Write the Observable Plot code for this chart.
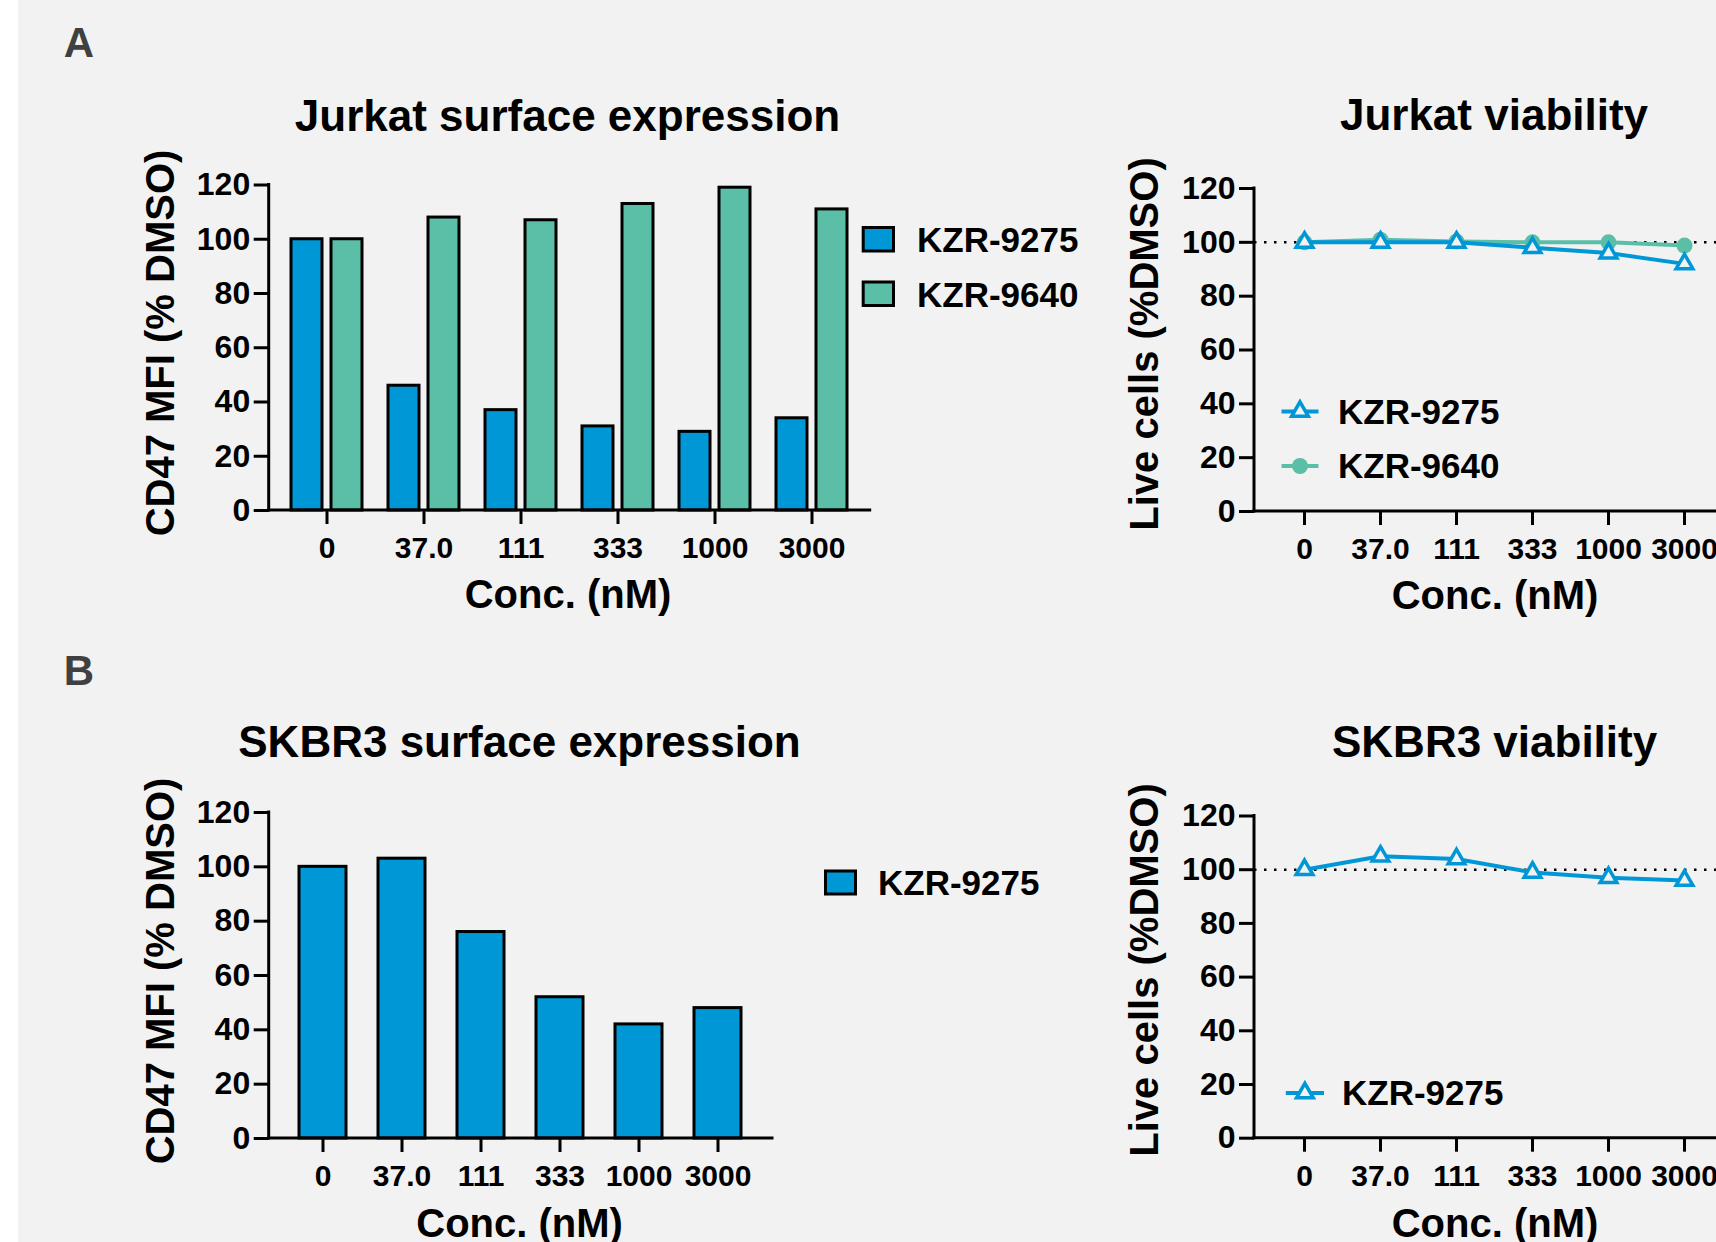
<!DOCTYPE html>
<html><head><meta charset="utf-8">
<script src="https://cdn.jsdelivr.net/npm/d3@7"></script>
<script src="https://cdn.jsdelivr.net/npm/@observablehq/plot@0.6"></script>
<style>
html,body{margin:0;padding:0;background:#ffffff;}
#fig{position:relative;width:1716px;height:1242px;overflow:hidden;background:#f2f2f2;font-family:"Liberation Sans",Arial,sans-serif;font-weight:bold;}
#strip{position:absolute;left:0;top:0;width:18px;height:1242px;background:#ffffff;}
.panel{position:absolute;}
.panel svg{overflow:visible;max-width:none;display:block;}
.panel svg g[aria-label$="tick"], .panel svg g[aria-label$="tick"] path{stroke-width:3px !important;}
#overlay{position:absolute;left:0;top:0;pointer-events:none;}
</style></head>
<body><div id="fig"><div id="strip"></div></div>
<script>
// ---------------- data ----------------
const concLabels = ["0", "37.0", "111", "333", "1000", "3000"];
const seriesNames = ["KZR-9275", "KZR-9640"];
const jurkatSurface9275 = [100, 46, 37, 31, 29, 34];
const jurkatSurface9640 = [100, 108, 107, 113, 119, 111];
const jurkatViability9275 = [100, 100, 100, 98, 96, 92];
const jurkatViability9640 = [100, 101, 100.3, 100, 100, 98.8];
const skbr3Surface9275 = [100, 103, 76, 52, 42, 48];
const skbr3Viability9275 = [100, 105, 104, 99, 97, 96];
const yTicks = [0, 20, 40, 60, 80, 100, 120];
const dmsoReference = [100];

const panelTitles = ["Jurkat surface expression", "Jurkat viability", "SKBR3 surface expression", "SKBR3 viability"];
const xTitle = "Conc. (nM)";
const yTitleSurface = "CD47 MFI (% DMSO)";
const yTitleViability = "Live cells (%DMSO)";
const panelLetters = ["A", "B"];

// ---------------- style ----------------
const BLUE = "#0097d7", GREEN = "#5bbfa8", INK = "#000000", BG = "#f2f2f2";
const FONT = "'Liberation Sans', Arial, Helvetica, sans-serif";
const baseStyle = {background: "transparent", fontFamily: FONT, fontWeight: "bold", color: INK, overflow: "visible", maxWidth: "none"};
const TRI_R = 6.2, DOT_R = 8, LINE_W = 4;

const fig = document.getElementById("fig");
function place(svg, left, top, w, h) {
  const d = document.createElement("div");
  d.className = "panel";
  d.style.left = left + "px"; d.style.top = top + "px";
  d.style.width = w + "px"; d.style.height = h + "px";
  d.appendChild(svg);
  fig.appendChild(d);
}
// axis lines along the left and bottom edges of the plot frame (from Plot's own dimensions)
function axisLines(index, scales, values, dims) {
  const {width, height, marginLeft, marginRight, marginTop, marginBottom} = dims;
  const g = d3.create("svg:g").attr("stroke", INK).attr("stroke-width", 3).attr("stroke-linecap", "square");
  g.append("line").attr("x1", marginLeft).attr("x2", marginLeft).attr("y1", marginTop).attr("y2", height - marginBottom);
  g.append("line").attr("x1", marginLeft).attr("x2", width - marginRight).attr("y1", height - marginBottom).attr("y2", height - marginBottom);
  return g.node();
}
function axes(xPad) {
  return [
    Plot.axisY({ticks: yTicks, tickSize: 15, tickPadding: 4, fontSize: 32, strokeWidth: 3, label: null}),
    Plot.axisX({tickSize: 14, tickPadding: xPad, fontSize: 30, strokeWidth: 3, label: null}),
    axisLines
  ];
}

// ---------------- A: Jurkat surface (grouped bars) ----------------
const jurkatSurf = concLabels.map((c, i) => ({conc: c, a: jurkatSurface9275[i], b: jurkatSurface9640[i]}));
place(Plot.plot({
  width: 880, height: 430,
  marginLeft: 268.7, marginRight: 10.3, marginTop: 44.5, marginBottom: 60,
  style: baseStyle,
  x: {type: "band", domain: concLabels, paddingInner: 0.2725, paddingOuter: 0.218},
  y: {domain: [0, 120]},
  marks: [
    Plot.barY(jurkatSurf, {x: "conc", y: "a", fill: BLUE, stroke: INK, strokeWidth: 3, insetRight: 40}),
    Plot.barY(jurkatSurf, {x: "conc", y: "b", fill: GREEN, stroke: INK, strokeWidth: 3, insetLeft: 40}),
    ...axes(12)
  ]
}), 0, 140, 880, 430);

// ---------------- A: Jurkat viability (lines) ----------------
const jurkatViab = concLabels.map((c, i) => ({conc: c, a: jurkatViability9275[i], b: jurkatViability9640[i]}));
place(Plot.plot({
  width: 700, height: 430,
  marginLeft: 154, marginRight: 65.5, marginTop: 48, marginBottom: 59,
  style: baseStyle,
  x: {type: "point", domain: concLabels, padding: 0.657},
  y: {domain: [0, 120]},
  marks: [
    Plot.ruleY(dmsoReference, {stroke: INK, strokeWidth: 2.5, strokeDasharray: "2.5 7.5"}),
    Plot.line(jurkatViab, {x: "conc", y: "b", stroke: GREEN, strokeWidth: LINE_W}),
    Plot.dot(jurkatViab, {x: "conc", y: "b", r: DOT_R, fill: GREEN}),
    Plot.line(jurkatViab, {x: "conc", y: "a", stroke: BLUE, strokeWidth: LINE_W}),
    Plot.dot(jurkatViab, {x: "conc", y: "a", symbol: "triangle", r: TRI_R, fill: BG, stroke: BLUE, strokeWidth: 3.5}),
    ...axes(12)
  ]
}), 1100, 140, 700, 430);

// ---------------- B: SKBR3 surface (bars) ----------------
const skSurf = concLabels.map((c, i) => ({conc: c, a: skbr3Surface9275[i]}));
place(Plot.plot({
  width: 880, height: 418,
  marginLeft: 268.7, marginRight: 108, marginTop: 32, marginBottom: 60,
  style: baseStyle,
  x: {type: "band", domain: concLabels, paddingInner: 0.4, paddingOuter: 0.38},
  y: {domain: [0, 120]},
  marks: [
    Plot.barY(skSurf, {x: "conc", y: "a", fill: BLUE, stroke: INK, strokeWidth: 3}),
    ...axes(12)
  ]
}), 0, 780, 880, 418);

// ---------------- B: SKBR3 viability (line) ----------------
const skViab = concLabels.map((c, i) => ({conc: c, a: skbr3Viability9275[i]}));
place(Plot.plot({
  width: 700, height: 418,
  marginLeft: 154, marginRight: 65.5, marginTop: 35.5, marginBottom: 60.3,
  style: baseStyle,
  x: {type: "point", domain: concLabels, padding: 0.657},
  y: {domain: [0, 120]},
  marks: [
    Plot.ruleY(dmsoReference, {stroke: INK, strokeWidth: 2.5, strokeDasharray: "2.5 7.5"}),
    Plot.line(skViab, {x: "conc", y: "a", stroke: BLUE, strokeWidth: LINE_W}),
    Plot.dot(skViab, {x: "conc", y: "a", symbol: "triangle", r: TRI_R, fill: BG, stroke: BLUE, strokeWidth: 3.5}),
    ...axes(12)
  ]
}), 1100, 780, 700, 418);

// ---------------- overlay: titles, axis titles, legends ----------------
const svg = d3.create("svg").attr("id", "overlay").attr("width", 1716).attr("height", 1242)
  .style("font-family", FONT).style("font-weight", "bold");
function txt(s, x, y, size, opts = {}) {
  const t = svg.append("text").text(s).attr("font-size", size).attr("fill", opts.fill || INK)
    .attr("text-anchor", opts.anchor || "middle");
  if (opts.rotate) t.attr("transform", `translate(${x},${y}) rotate(-90)`);
  else t.attr("x", x).attr("y", y);
  return t;
}
txt(panelLetters[0], 79, 57, 42, {fill: "#404040"});
txt(panelLetters[1], 79, 685, 42, {fill: "#404040"});
txt(panelTitles[0], 567.5, 131, 44);
txt(panelTitles[1], 1494, 130, 44);
txt(panelTitles[2], 519.5, 757, 44);
txt(panelTitles[3], 1494.6, 757, 44);
txt(xTitle, 568, 608, 40);
txt(xTitle, 1495, 609, 40);
txt(xTitle, 519.6, 1237, 40);
txt(xTitle, 1495, 1237, 40);
txt(yTitleSurface, 174, 343, 40, {rotate: true});
txt(yTitleViability, 1158, 344, 40, {rotate: true});
txt(yTitleSurface, 174, 971, 40, {rotate: true});
txt(yTitleViability, 1158, 970, 40, {rotate: true});

// bar legends
function swatch(x0, y0, x1, y1, fill) {
  svg.append("rect").attr("x", x0 + 1.5).attr("y", y0 + 1.5).attr("width", x1 - x0 - 3).attr("height", y1 - y0 - 3)
    .attr("fill", fill).attr("stroke", INK).attr("stroke-width", 3);
}
swatch(861.7, 226, 895, 252.5, BLUE);
txt(seriesNames[0], 917, 252, 35, {anchor: "start"});
swatch(861.7, 280.5, 895, 307, GREEN);
txt(seriesNames[1], 917, 307, 35, {anchor: "start"});
swatch(824, 869.5, 857, 895.5, BLUE);
txt(seriesNames[0], 878, 895, 35, {anchor: "start"});

// line legends
const tri = d3.symbol(d3.symbolTriangle, Math.PI * TRI_R * TRI_R)();
function lineKey(x0, x1, y, color, kind) {
  svg.append("line").attr("x1", x0).attr("x2", x1).attr("y1", y).attr("y2", y)
    .attr("stroke", color).attr("stroke-width", LINE_W);
  const cx = (x0 + x1) / 2;
  if (kind === "triangle") {
    svg.append("path").attr("d", tri).attr("transform", `translate(${cx},${y})`)
      .attr("fill", BG).attr("stroke", color).attr("stroke-width", 3.5);
  } else {
    svg.append("circle").attr("cx", cx).attr("cy", y).attr("r", DOT_R).attr("fill", color);
  }
}
lineKey(1281.5, 1318.5, 411.5, BLUE, "triangle");
txt(seriesNames[0], 1338, 423.6, 35, {anchor: "start"});
lineKey(1281.5, 1318.5, 466, GREEN, "circle");
txt(seriesNames[1], 1338, 478, 35, {anchor: "start"});
lineKey(1285.8, 1324, 1093, BLUE, "triangle");
txt(seriesNames[0], 1342, 1105, 35, {anchor: "start"});

fig.appendChild(svg.node());
</script>
</body></html>
